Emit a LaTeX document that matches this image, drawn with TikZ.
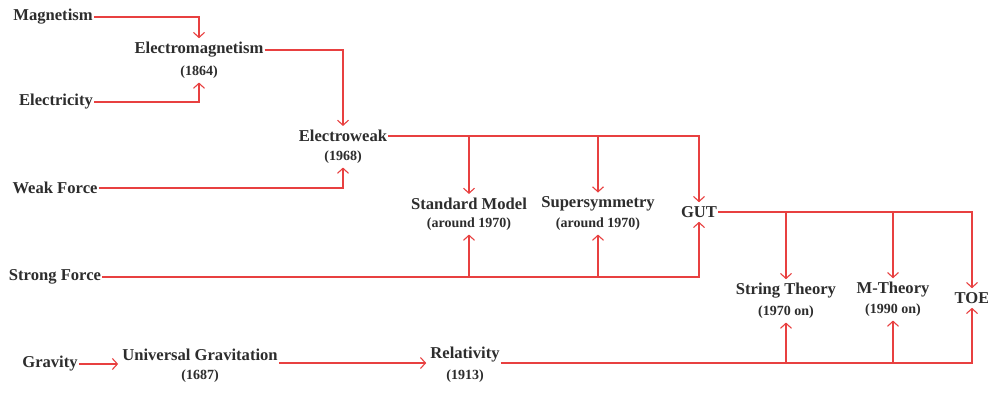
\documentclass[tikz,border=0pt]{standalone}
\usepackage{fontspec}
\setmainfont{Liberation Serif}
\usetikzlibrary{arrows.meta}
\definecolor{linkred}{RGB}{232,64,64}
\definecolor{ink}{RGB}{45,45,45}
\begin{document}
\begin{tikzpicture}[x=1pt,y=-1pt,
  title/.style={text=ink,font=\fontsize{16.6}{19}\selectfont\bfseries,inner sep=1pt},
  year/.style={text=ink,font=\fontsize{14}{16}\selectfont\bfseries,inner sep=1pt},
  link/.style={draw=linkred,line width=1.1pt},
  arr/.style={link,-{Straight Barb[length=5pt,width=11pt]},shorten >=3pt},
]
\useasboundingbox[fill=white] (0,0) rectangle (988,392);

% theories and the forces they unify
\node[title] (mag) at (53,17) {Magnetism};
\node[title] (em) at (199,50) {Electromagnetism};
\node[year] (emy) at (199,72) {(1864)};
\node[title] (ele) at (56,102) {Electricity};
\node[title] (ew) at (343,136) {Electroweak};
\node[year] (ewy) at (343,157) {(1968)};
\node[title] (weak) at (55,188) {Weak Force};
\node[title] (sm) at (469,204) {Standard Model};
\node[year] (smy) at (469,224) {(around 1970)};
\node[title] (susy) at (598,204) {Supersymmetry};
\node[year] (susyy) at (598,224) {(around 1970)};
\node[title] (gut) at (699,212) {GUT};
\node[title] (strong) at (55,277) {Strong Force};
\node[title] (st) at (786,291) {String Theory};
\node[year] (sty) at (786,312) {(1970 on)};
\node[title] (mt) at (893,290) {M-Theory};
\node[year] (mty) at (893,310) {(1990 on)};
\node[title] (toe) at (972,298) {TOE};
\node[title] (grav) at (50,364) {Gravity};
\node[title] (ug) at (200,355) {Universal Gravitation};
\node[year] (ugy) at (200,376) {(1687)};
\node[title] (rel) at (465,355) {Relativity};
\node[year] (rely) at (465,376) {(1913)};

% exits of the gravity row, level with the gap under the titles
\coordinate (ugout) at (ug.east |- 0,363);
\coordinate (relout) at (rel.east |- 0,363);

% electromagnetism
\draw[arr] (mag.east) -| (em.north);
\draw[arr] (ele.east) -| (emy.south);
% electroweak
\draw[arr] (em.east) -| (ew.north);
\draw[arr] (weak.east) -| (ewy.south);
% electroweak feeds the standard model, supersymmetry and GUT
\draw[arr] (ew.east) -| (gut.north);
\draw[arr] (ew.east -| sm.north) -- (sm.north);
\draw[arr] (ew.east -| susy.north) -- (susy.north);
% strong force
\draw[arr] (strong.east) -| (gut.south);
\draw[arr] (strong.east -| smy.south) -- (smy.south);
\draw[arr] (strong.east -| susyy.south) -- (susyy.south);
% GUT feeds string theory, M-theory and TOE
\draw[arr] (gut.east) -| (toe.north);
\draw[arr] (gut.east -| st.north) -- (st.north);
\draw[arr] (gut.east -| mt.north) -- (mt.north);
% gravity
\draw[arr] (grav.east) -- (grav.east -| ug.west);
\draw[arr] (ugout) -- (ugout -| rel.west);
\draw[arr] (relout) -| (toe.south);
\draw[arr] (relout -| sty.south) -- (sty.south);
\draw[arr] (relout -| mty.south) -- (mty.south);
\end{tikzpicture}
\end{document}
